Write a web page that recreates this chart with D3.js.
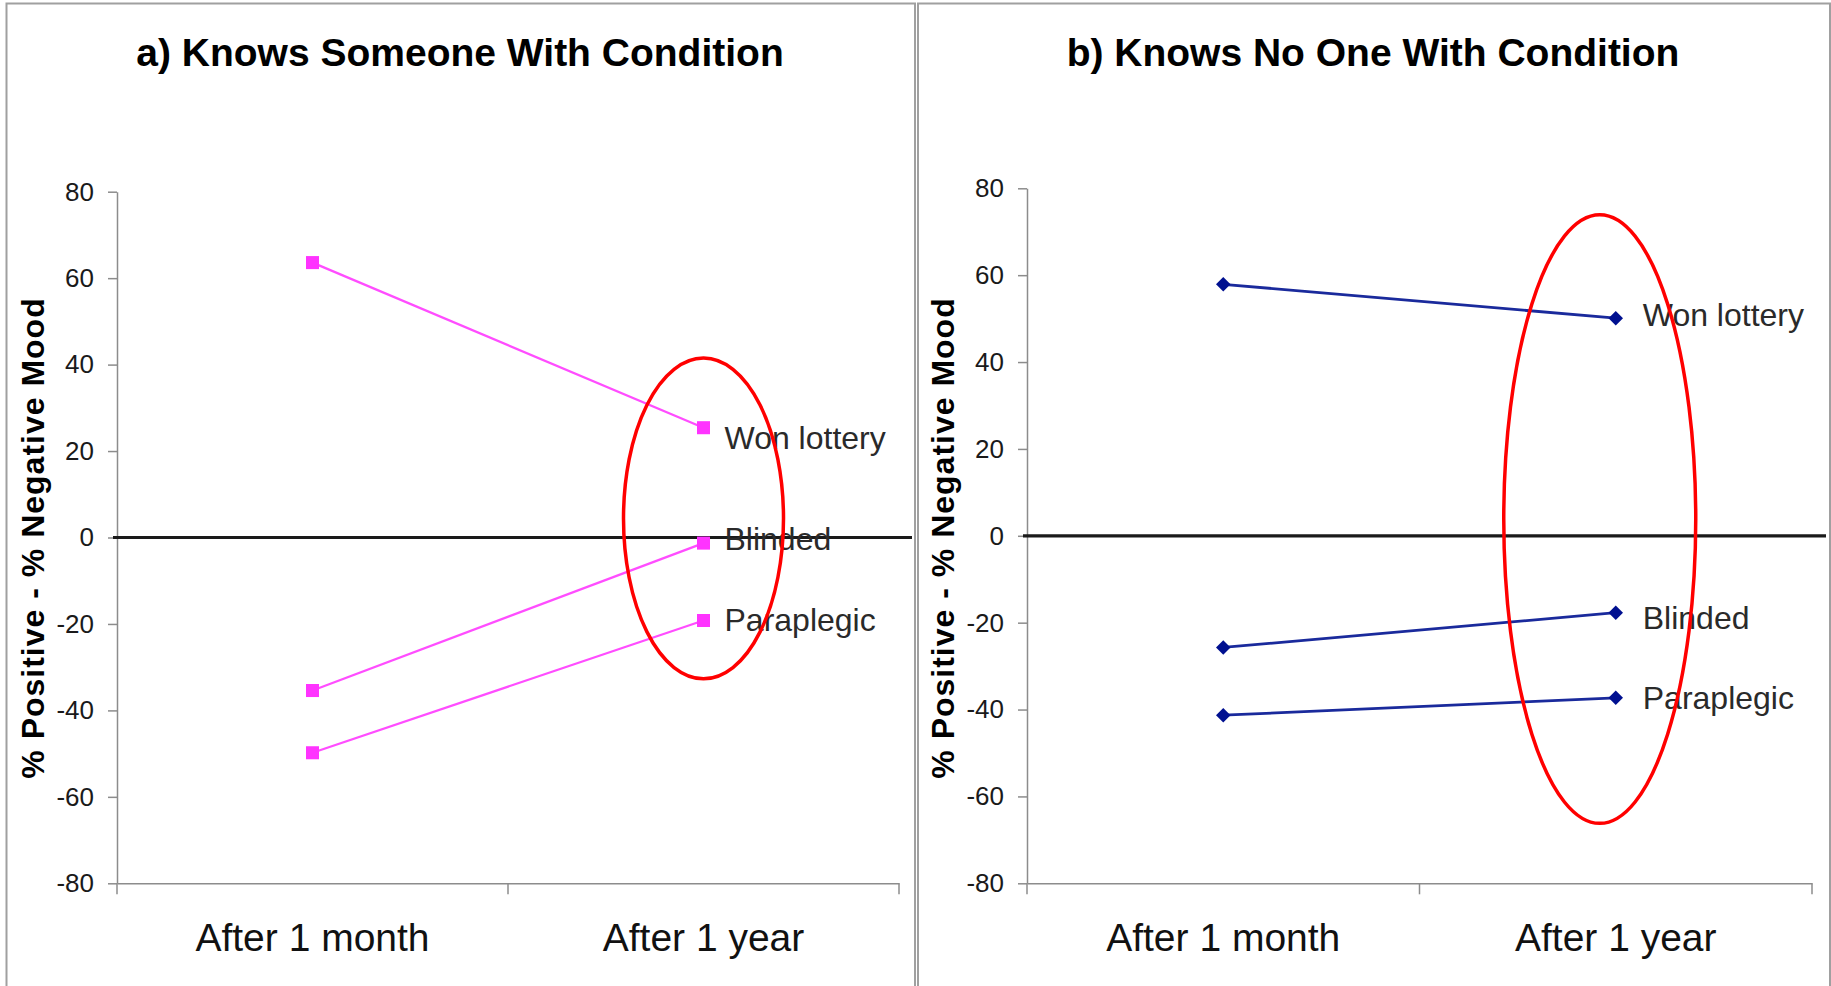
<!DOCTYPE html>
<html>
<head>
<meta charset="utf-8">
<script src="https://cdn.jsdelivr.net/npm/d3@7"></script>
<style>
  html, body { margin: 0; padding: 0; background: #fff; }
  svg { display: block; }
  text { font-family: "Liberation Sans", Arial, sans-serif; }
</style>
</head>
<body>
<script>
// ---------------- data ----------------
const categories = ["After 1 month", "After 1 year"];
const seriesNames = ["Won lottery", "Blinded", "Paraplegic"];
const yTicks = [-80, -60, -40, -20, 0, 20, 40, 60, 80];
const yDomain = [-80, 80];

// Panel a: Knows someone with condition  [after 1 month, after 1 year]
const knowsSomeoneValues = [
  [63.6, 25.4],   // Won lottery
  [-35.4, -1.3],  // Blinded
  [-49.8, -19.2]  // Paraplegic
];
// Panel b: Knows no one with condition
const knowsNoOneValues = [
  [57.9, 50.1],   // Won lottery
  [-25.7, -17.7], // Blinded
  [-41.3, -37.3]  // Paraplegic
];
const titles = ["a) Knows Someone With Condition", "b) Knows No One With Condition"];
const yAxisTitle = "% Positive - % Negative Mood";
// highlight ellipse extent (top, bottom) in data units around "After 1 year"
const ellipseA = [41.5, -32.7];
const ellipseB = [73.9, -66.2];

// ---------------- layout ----------------
const W = 1831, H = 986;
const svg = d3.select("body").append("svg").attr("width", W).attr("height", H);

const panels = [
  { values: knowsSomeoneValues, title: titles[0], ellipse: ellipseA,
    box: [6.5, 915], x0: 117, x1: 899, yTop: 191.7, yBottom: 883.3,
    titleX: 460, yLabelX: 44, zeroEnd: 912,
    lineColor: "#ff4dff", markColor: "#ff33ff", marker: "square",
    labelDx: 21, labelDy: [10, -4, 0], ellRx: 80, ellDx: 0 },
  { values: knowsNoOneValues, title: titles[1], ellipse: ellipseB,
    box: [918, 1830], x0: 1027, x1: 1812, yTop: 188.3, yBottom: 883.3,
    titleX: 1373, yLabelX: 954, zeroEnd: 1826,
    lineColor: "#1a2a9c", markColor: "#001090", marker: "diamond",
    labelDx: 27, labelDy: [-3, 5, 0], ellRx: 96, ellDx: -16 }
];

function drawPanel(p) {
  const g = svg.append("g");

  // panel frame
  g.append("rect")
    .attr("x", p.box[0]).attr("y", 3.5)
    .attr("width", p.box[1] - p.box[0]).attr("height", H + 20)
    .attr("fill", "#fff").attr("stroke", "#a0a0a0").attr("stroke-width", 2);

  // title
  g.append("text")
    .attr("x", p.titleX).attr("y", 66)
    .attr("text-anchor", "middle")
    .attr("font-size", 39).attr("font-weight", "bold").attr("fill", "#000")
    .text(p.title);

  const x = d3.scaleBand().domain(categories).range([p.x0, p.x1]);
  const y = d3.scaleLinear().domain(yDomain).range([p.yBottom, p.yTop]);
  const cx = c => x(c) + x.bandwidth() / 2;

  // y axis
  const yAxis = g.append("g")
    .attr("transform", `translate(${p.x0},0)`)
    .call(d3.axisLeft(y).tickValues(yTicks).tickSize(9).tickSizeOuter(0).tickPadding(14)
      .tickFormat(d => String(d)));
  yAxis.select(".domain").attr("stroke", "#8c8c8c").attr("stroke-width", 1.5);
  yAxis.selectAll(".tick line").attr("stroke", "#8c8c8c").attr("stroke-width", 1.5);
  yAxis.selectAll(".tick text")
    .attr("font-size", 26).attr("fill", "#1a1a1a")
    .attr("font-family", "'Liberation Sans', Arial, sans-serif");

  // x axis
  const xAxis = g.append("g")
    .attr("transform", `translate(0,${p.yBottom})`)
    .call(d3.axisBottom(x).tickSize(0).tickSizeOuter(0).tickPadding(40));
  xAxis.select(".domain").attr("stroke", "#8c8c8c").attr("stroke-width", 1.5);
  xAxis.selectAll(".tick text")
    .attr("font-size", 39).attr("fill", "#111")
    .attr("font-family", "'Liberation Sans', Arial, sans-serif");
  // category boundary tick marks
  const bounds = categories.map(c => x(c)).concat([x.range()[1]]);
  xAxis.selectAll(".bound").data(bounds).enter().append("line")
    .attr("x1", d => d).attr("x2", d => d)
    .attr("y1", 0).attr("y2", 11)
    .attr("stroke", "#8c8c8c").attr("stroke-width", 1.5);

  // y axis title
  g.append("text")
    .attr("transform", `translate(${p.yLabelX},538) rotate(-90)`)
    .attr("text-anchor", "middle")
    .attr("font-size", 32).attr("font-weight", "bold").attr("letter-spacing", 1)
    .attr("fill", "#000")
    .text(yAxisTitle);

  // zero line
  g.append("line")
    .attr("x1", p.x0 - 4).attr("x2", p.zeroEnd)
    .attr("y1", y(0)).attr("y2", y(0))
    .attr("stroke", "#1a1a1a").attr("stroke-width", 3.2);

  // series lines
  const line = d3.line().x((d, i) => cx(categories[i])).y(d => y(d));
  g.selectAll(".series").data(p.values).enter().append("path")
    .attr("d", d => line(d))
    .attr("fill", "none").attr("stroke", p.lineColor)
    .attr("stroke-width", p.marker === "square" ? 2.3 : 2.8);

  // markers
  const sym = p.marker === "square"
    ? d3.symbol().type(d3.symbolSquare).size(170)
    : d3.symbol().type(d3.symbolSquare).size(105);
  const pts = [];
  p.values.forEach((vals, si) => vals.forEach((v, i) => pts.push({ c: categories[i], v })));
  g.selectAll(".mark").data(pts).enter().append("path")
    .attr("d", sym)
    .attr("transform", d => `translate(${cx(d.c)},${y(d.v)})` + (p.marker === "diamond" ? " rotate(45)" : ""))
    .attr("fill", p.markColor);

  // series labels at last point
  const lastCat = categories[categories.length - 1];
  g.selectAll(".lbl").data(p.values).enter().append("text")
    .attr("x", cx(lastCat) + p.labelDx)
    .attr("y", (d, i) => y(d[d.length - 1]) + p.labelDy[i] + 11)
    .attr("font-size", 32).attr("fill", "#2a2a2a")
    .text((d, i) => seriesNames[i]);

  // highlight ellipse
  const eTop = y(p.ellipse[0]), eBot = y(p.ellipse[1]);
  g.append("ellipse")
    .attr("cx", cx(lastCat) + p.ellDx)
    .attr("cy", (eTop + eBot) / 2)
    .attr("rx", p.ellRx).attr("ry", (eBot - eTop) / 2)
    .attr("fill", "none").attr("stroke", "#ff0000").attr("stroke-width", 3.5);
}

panels.forEach(drawPanel);
</script>
</body>
</html>
